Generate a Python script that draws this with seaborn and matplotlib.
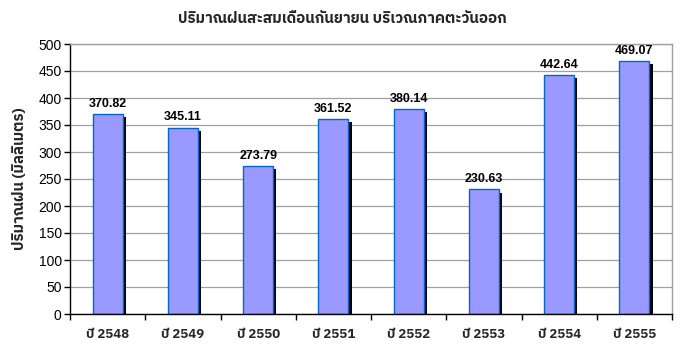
import matplotlib
matplotlib.use("Agg")
import matplotlib.pyplot as plt
import matplotlib.patheffects as pe
from matplotlib import font_manager, ft2font
import seaborn as sns
import pandas as pd
import numpy as np

years = ["ปี 2548", "ปี 2549", "ปี 2550", "ปี 2551", "ปี 2552", "ปี 2553", "ปี 2554", "ปี 2555"]
rain = [370.82, 345.11, 273.79, 361.52, 380.14, 230.63, 442.64, 469.07]
y_ticks = [0, 50, 100, 150, 200, 250, 300, 350, 400, 450, 500]
title = "ปริมาณฝนสะสมเดือนกันยายน บริเวณภาคตะวันออก"
ylabel = "ปริมาณฝน (มิลลิเมตร)"

sns.set_theme(style="white")

def has_thai(path):
    try:
        f = ft2font.FT2Font(path)
        cm = f.get_charmap()
        return 0x0E1B in cm and 0x0E21 in cm
    except Exception:
        return False

thai = []
for f in font_manager.fontManager.ttflist:
    if has_thai(f.fname) and f.name not in thai:
        thai.append(f.name)
pref = [n for n in thai if "Sans" in n] + [n for n in thai if "Sans" not in n]
families = pref + ["DejaVu Sans"]
plt.rcParams["font.family"] = families
arial = ["Liberation Sans", "DejaVu Sans"]

df = pd.DataFrame({"year": years, "rain": rain})

fig = plt.figure(figsize=(6.84, 3.56), dpi=100)
ax = fig.add_axes([70/684, 1-314/356, (672-70)/684, (314-44)/356])

sns.barplot(data=df, x="year", y="rain", ax=ax, color="#9999FF", width=0.4,
            edgecolor="#0066CC", linewidth=1.0, saturation=1)

for p in ax.patches:
    p.set_path_effects([pe.SimplePatchShadow(offset=(2.3, -2.3), shadow_rgbFace="black", alpha=1.0),
                        pe.Normal()])

for c in ax.containers:
    ax.bar_label(c, labels=[f"{v:.2f}" for v in rain], padding=3, fontsize=9,
                 fontweight="bold", color="black", family=arial)

ax.set_ylim(0, 500)
ax.set_xlim(-0.5, len(years) - 0.5)
ax.set_yticks(y_ticks)
ax.yaxis.grid(True, color="#A0A0A0", linewidth=0.9)
ax.set_axisbelow(True)

ax.set_xticks(np.arange(len(years)))
ax.set_xticks(np.arange(len(years) + 1) - 0.5, minor=True)
ax.tick_params(axis="x", which="major", length=0, pad=10, labelsize=9.5)
ax.tick_params(axis="x", which="minor", length=4, width=1, color="black", direction="out", bottom=True)
ax.tick_params(axis="y", length=4, width=1, color="black", direction="out", left=True, labelsize=10, pad=2)
for lab in ax.get_xticklabels():
    lab.set_fontweight("bold")
for lab in ax.get_yticklabels():
    lab.set_family(arial)
    lab.set_color("black")

for s in ["left", "bottom"]:
    ax.spines[s].set_color("black")
    ax.spines[s].set_linewidth(1)
for s in ["top", "right"]:
    ax.spines[s].set_visible(True)
    ax.spines[s].set_color("#A0A0A0")
    ax.spines[s].set_linewidth(1)

ax.set_xlabel("")
ax.set_ylabel(ylabel, fontsize=10.8, fontweight="bold")
ax.yaxis.set_label_coords(-(70-20)/602, 0.5)
ax.yaxis.label.set_va("center")
fig.text(0.5, 1-19/356, title, ha="center", va="center", fontsize=10.8, fontweight="bold")

fig.savefig("out.png", dpi=100)
